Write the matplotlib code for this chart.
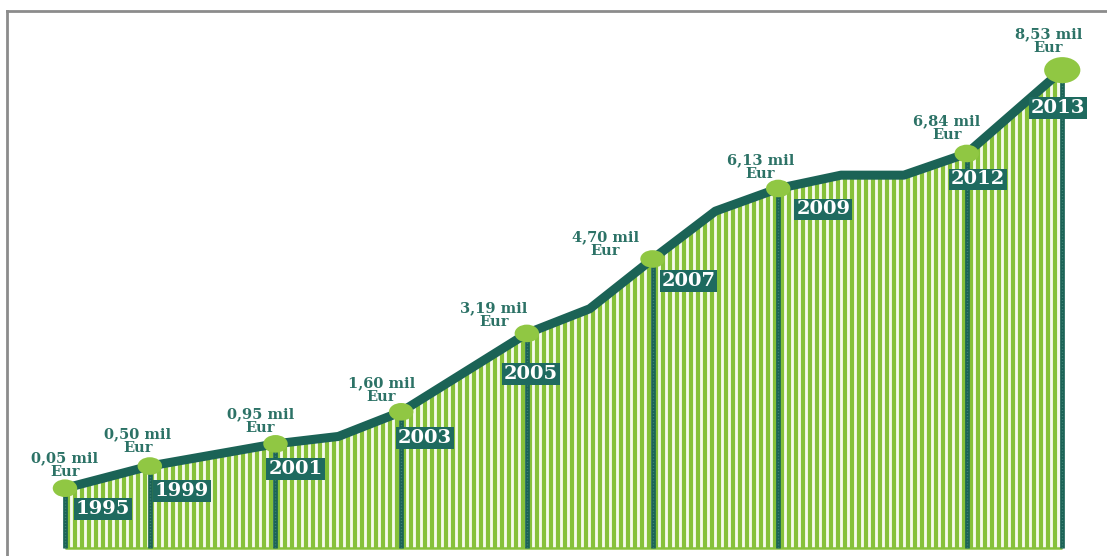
import numpy as np
import matplotlib.pyplot as plt
from matplotlib.path import Path
from matplotlib.lines import Line2D
from matplotlib.transforms import blended_transform_factory

# yearly totals (mil Eur); unlabelled years are the bends of the line
years = [1995, 1999, 2001, 2002, 2003, 2005, 2006, 2007, 2008, 2009, 2010, 2011, 2012, 2013]
values = [0.05, 0.50, 0.95, 1.10, 1.60, 3.19, 3.69, 4.70, 5.67, 6.13, 6.40, 6.40, 6.84, 8.53]
label_years = [1995, 1999, 2001, 2003, 2005, 2007, 2009, 2012, 2013]

TEAL = '#1b6356'
BOX = '#1e6a5f'
TXT = '#2c7266'
GREEN = '#86c13a'
DOT = '#90c743'
PALE = '#f6faec'

# warped year axis: 1995-1999 squeezed, 2012-2013 stretched
brk_years = np.array([1995, 1999, 2012, 2013], float)
brk_pos = np.array([0.0, 1.35, 14.35, 15.87])


def fwd(x):
    x = np.asarray(x, float)
    p = np.interp(x, brk_years, brk_pos)
    p = np.where(x < brk_years[0], x - brk_years[0] + brk_pos[0], p)
    return np.where(x > brk_years[-1], x - brk_years[-1] + brk_pos[-1], p)


def inv(p):
    p = np.asarray(p, float)
    x = np.interp(p, brk_pos, brk_years)
    x = np.where(p < brk_pos[0], p - brk_pos[0] + brk_years[0], x)
    return np.where(p > brk_pos[-1], p - brk_pos[-1] + brk_years[-1], x)


fig = plt.figure(figsize=(11.07, 5.56), dpi=100)
ax = fig.add_axes([0, 0, 1, 1])
ax.set_xscale('function', functions=(fwd, inv))
ax.set_xlim(1993.966, 2013.712)
ax.set_ylim(-1.325, 9.953)
ax.axis('off')

base = -1.163
lookup = dict(zip(years, values))
label_vals = [lookup[y] for y in label_years]

# pale area with green vertical stripes clipped to it
fill = ax.fill_between(years, values, base, color=PALE, lw=0, zorder=1)
trans = blended_transform_factory(ax.transAxes, ax.transData)
xs = np.arange(68, 1062, 7) / 1107
stripes = ax.vlines(xs, base, 10, transform=trans, colors=GREEN, lw=3.0, zorder=2)
stripes.set_clip_path(fill.get_paths()[0], ax.transData)
ax.hlines(base, years[0], years[-1], colors=GREEN, lw=1.8, zorder=2)

# year posts
ax.vlines(label_years, base, label_vals, colors=TEAL, lw=3.4, zorder=3)
ax.vlines(label_years, base, label_vals, colors='#3f8276', lw=1.0,
          linestyles=(0, (0.8, 1.4)), zorder=3)

ax.plot(years, values, color=TEAL, lw=6.5, solid_joinstyle='round',
        solid_capstyle='round', zorder=4)

circ = Path.unit_circle()
ellipse = Path(circ.vertices * [1.0, 0.72], circ.codes)
sizes = [310] * (len(label_years) - 1) + [680]
ax.scatter(label_years, label_vals, s=sizes, marker=ellipse, color=DOT,
           lw=0, zorder=5)

# offsets in pixels: value label centre and year box centre, relative to the dot
val_off = [(0, 23), (-12, 25), (-15, 23), (-20, 22), (-33, 18), (-47, 15),
           (-18, 21), (-20, 25), (-14, 29)]
box_off = [(38, -21), (32, -25), (20, -25), (24, -26), (4, -41), (36, -22),
           (45, -21), (11, -26), (-4, -38)]

for y, v, (vx, vy), (bx, by) in zip(label_years, label_vals, val_off, box_off):
    txt = f'{v:.2f}'.replace('.', ',') + ' mil\nEur'
    ax.annotate(txt, (y, v), xytext=(vx, vy), textcoords='offset pixels',
                ha='center', va='center', linespacing=1.0, fontsize=10.5,
                fontweight='bold', family='DejaVu Serif', color=TXT, zorder=7)
    ax.annotate(str(y), (y, v), xytext=(bx, by), textcoords='offset pixels',
                ha='center', va='center', fontsize=14, fontweight='bold',
                family='DejaVu Serif', color='white', zorder=6,
                bbox=dict(boxstyle='square,pad=0.1', fc=BOX, ec='none'))

# grey frame (top and left edges)
fig.add_artist(Line2D([7 / 1107, 1], [545 / 556, 545 / 556], color='#8c8c8c', lw=2))
fig.add_artist(Line2D([7 / 1107, 7 / 1107], [0, 545 / 556], color='#8c8c8c', lw=2))

fig.savefig('out.png', dpi=100)
